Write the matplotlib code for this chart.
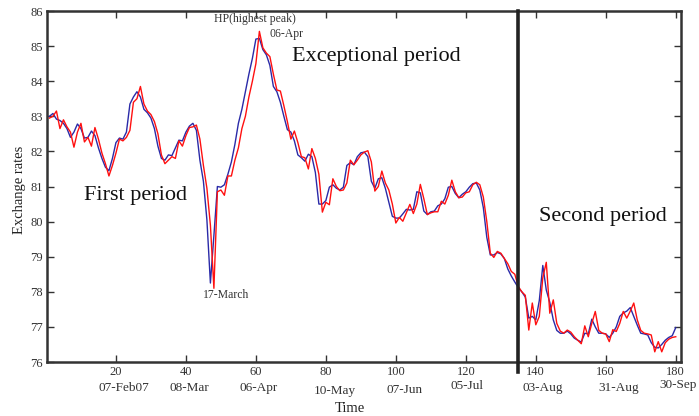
import matplotlib
matplotlib.use("Agg")
import matplotlib.pyplot as plt
import matplotlib.transforms as mtransforms

plt.rcParams['font.family'] = ['Liberation Serif', 'DejaVu Serif']

days = list(range(1, 181))

actual = [
    83.00, 83.08, 82.92, 82.88, 82.80, 82.65, 82.40, 82.55, 82.78, 82.65,
    82.38, 82.40, 82.58, 82.45, 82.10, 81.80, 81.55, 81.45, 81.80, 82.25,
    82.38, 82.35, 82.55, 83.35, 83.55, 83.70, 83.55, 83.20, 83.10, 82.95,
    82.65, 82.15, 81.80, 81.75, 81.90, 81.88, 82.10, 82.32, 82.30, 82.55,
    82.72, 82.80, 82.60, 81.75, 81.15, 80.05, 78.25, 79.60, 81.00, 80.98,
    81.05, 81.35, 81.70, 82.20, 82.80, 83.20, 83.70, 84.20, 84.65, 85.20,
    85.22, 84.90, 84.75, 84.45, 83.85, 83.70, 83.40, 83.00, 82.62, 82.55,
    82.30, 81.90, 81.82, 81.72, 81.92, 81.85, 81.40, 80.50, 80.50, 80.60,
    80.98, 81.05, 80.95, 80.90, 80.98, 81.60, 81.68, 81.62, 81.85, 81.96,
    81.98, 81.85, 81.15, 80.95, 81.22, 81.25, 80.95, 80.55, 80.15, 80.10,
    80.10, 80.22, 80.35, 80.33, 80.35, 80.85, 80.82, 80.30, 80.20, 80.28,
    80.30, 80.45, 80.50, 80.65, 80.98, 81.00, 80.80, 80.68, 80.78, 80.85,
    80.98, 81.08, 81.10, 80.90, 80.40, 79.55, 79.05, 79.05, 79.12, 79.08,
    78.95, 78.65, 78.45, 78.28, 78.12, 78.00, 77.85, 77.25, 77.30, 77.20,
    77.75, 78.75, 78.05, 77.70, 77.20, 76.90, 76.82, 76.82, 76.88, 76.80,
    76.68, 76.62, 76.57, 76.82, 76.80, 77.22, 77.00, 76.82, 76.82, 76.80,
    76.70, 76.82, 77.00, 77.30, 77.40, 77.45, 77.55, 77.30, 77.05, 76.82,
    76.80, 76.77, 76.55, 76.42, 76.40, 76.50, 76.62, 76.70, 76.75, 76.98,
]

forecast = [
    82.95, 83.00, 83.15, 82.65, 82.90, 82.70, 82.55, 82.12, 82.55, 82.80,
    82.27, 82.40, 82.15, 82.68, 82.35, 81.95, 81.65, 81.30, 81.60, 81.95,
    82.35, 82.30, 82.40, 82.60, 83.40, 83.50, 83.85, 83.35, 83.15, 83.05,
    82.85, 82.50, 81.90, 81.65, 81.75, 81.85, 81.80, 82.30, 82.15, 82.45,
    82.68, 82.70, 82.75, 82.35, 81.60, 80.95, 79.90, 78.10, 80.85, 80.90,
    80.75, 81.30, 81.30, 81.75, 82.10, 82.65, 83.00, 83.55, 84.00, 84.50,
    85.42, 84.95, 84.80, 84.70, 84.20, 83.75, 83.72, 83.30, 82.85, 82.35,
    82.58, 82.25, 81.85, 81.82, 81.50, 82.08, 81.80, 81.35, 80.27, 80.55,
    80.48, 81.22, 81.00, 80.88, 80.90, 81.10, 81.75, 81.62, 81.75, 81.90,
    81.98, 82.02, 81.70, 80.87, 81.00, 81.44, 81.10, 80.90, 80.50, 79.96,
    80.12, 80.01, 80.25, 80.49, 80.23, 80.50, 81.06, 80.65, 80.20, 80.25,
    80.28, 80.28, 80.58, 80.50, 80.75, 81.18, 80.85, 80.68, 80.70, 80.82,
    80.85, 81.05, 81.12, 81.05, 80.70, 80.00, 79.10, 78.98, 79.15, 79.10,
    78.95, 78.80, 78.58, 78.50, 78.15, 78.00, 77.90, 76.91, 77.68, 77.06,
    77.30, 78.40, 78.84, 77.39, 77.77, 77.10, 76.88, 76.82, 76.91, 76.85,
    76.72, 76.62, 76.52, 77.03, 76.72, 77.10, 77.44, 76.90, 76.82, 76.80,
    76.58, 76.92, 76.87, 77.10, 77.44, 77.25, 77.45, 77.68, 77.20, 76.90,
    76.82, 76.80, 76.77, 76.29, 76.58, 76.29, 76.55, 76.65, 76.70, 76.72,
]

x_ticks = [20, 40, 60, 80, 100, 120, 140, 160, 180]
date_labels = ['07-Feb07', '08-Mar', '06-Apr', '10-May', '07-Jun', '05-Jul',
               '03-Aug', '31-Aug', '30-Sep']
y_ticks = [76, 77, 78, 79, 80, 81, 82, 83, 84, 85, 86]
split_day = 135

W, H = 699, 416
fig = plt.figure(figsize=(W / 100, H / 100), dpi=100)
ax = fig.add_axes([47 / W, 1 - 362 / H, (681 - 47) / W, (362 - 11) / H])

ax.plot(days, actual, color='#2a2aa8', lw=1.0, zorder=3)
ax.plot(days, forecast, color='#ff1010', lw=1.0, zorder=4)

ax.set_xlim(0.3, 181.5)
ax.set_ylim(76, 86)
ax.set_xticks(x_ticks)
ax.set_xticklabels([str(t) for t in x_ticks])
ax.set_yticks(y_ticks)
ax.set_yticklabels([str(t) for t in y_ticks])
ax.tick_params(direction='in', length=5, width=1.0, top=True, right=True,
               labelsize=9, colors='#333333', pad=3)
for s in ax.spines.values():
    s.set_linewidth(1.8)
    s.set_color('#333333')

# vertical split line
ax.plot([split_day, split_day], [86, 75.72], color='#222222', lw=2.6,
        clip_on=False, zorder=5)

# second row of x labels (dates)
trans = mtransforms.blended_transform_factory(ax.transData, fig.transFigure)
date_dx = [2.3, 0.9, 0.9, 2.7, 2.4, 0.2, 1.9, 3.7, 0.6]
date_y = [388, 388, 388, 391, 390, 386, 388, 388, 385]
for t, lab, dx, py in zip(x_ticks, date_labels, date_dx, date_y):
    fig.text(t + dx, 1 - py / H, lab, transform=trans, ha='center',
             va='center', fontsize=9.5, color='#333333')

fig.text(350 / W, 1 - 408 / H, 'Time', ha='center', va='center',
         fontsize=10.5, color='#222222')
fig.text(20 / W, 1 - 190 / H, 'Exchange rates', ha='center', va='center',
         rotation=90, fontsize=10.5, color='#222222')

# annotations
ax.text(59.8, 85.76, 'HP(highest peak)', ha='center', va='center',
        fontsize=8.5, color='#333333')
ax.text(68.7, 85.34, '06-Apr', ha='center', va='center', fontsize=8.5,
        color='#333333')
ax.text(94.5, 84.71, 'Exceptional period', ha='center', va='center',
        fontsize=16, color='#111111')
ax.text(25.5, 80.74, 'First period', ha='center', va='center',
        fontsize=16, color='#111111')
ax.text(159.3, 80.15, 'Second period', ha='center', va='center',
        fontsize=16, color='#111111')
ax.text(51.6, 77.91, '17-March', ha='center', va='center', fontsize=8.5,
        color='#333333')

fig.savefig('out.png', dpi=100)
